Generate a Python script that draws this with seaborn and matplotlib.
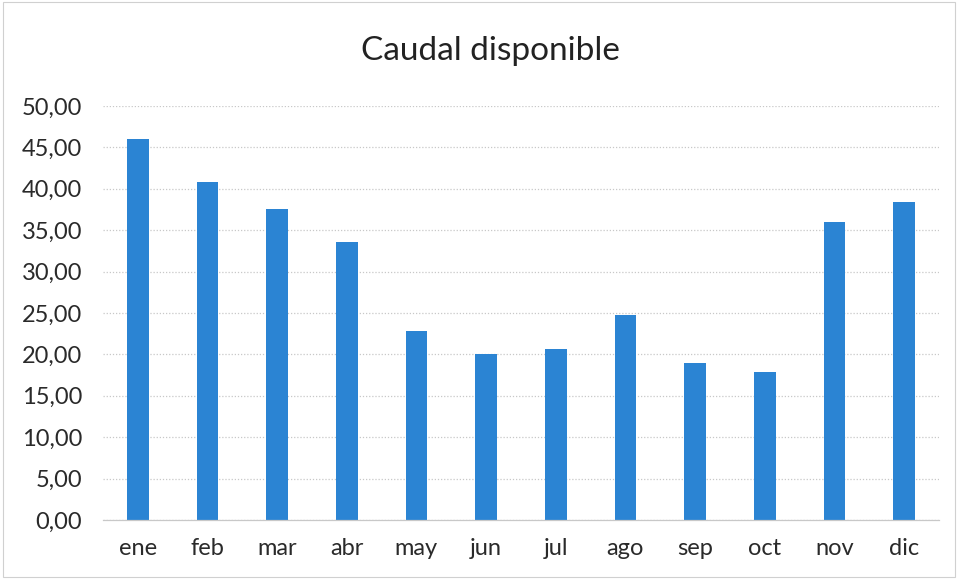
import matplotlib
matplotlib.use("Agg")
import matplotlib.pyplot as plt
import seaborn as sns
import pandas as pd
from matplotlib.ticker import FuncFormatter, MultipleLocator

months = ["ene", "feb", "mar", "abr", "may", "jun", "jul", "ago", "sep", "oct", "nov", "dic"]
caudal = [46.0, 40.8, 37.6, 33.6, 22.8, 20.1, 20.7, 24.8, 18.9, 17.9, 36.0, 38.4]

sns.set_theme(style="white")
plt.rcParams['font.family'] = ['Lato', 'DejaVu Sans']

df = pd.DataFrame({"mes": months, "caudal": caudal})

fig = plt.figure(figsize=(9.58, 5.79), dpi=100)
ax = fig.add_axes([0.1075, 0.102, 0.8725, 0.715])
sns.barplot(data=df, x="mes", y="caudal", color="#2b84d3", width=0.31,
            saturation=1, ax=ax, edgecolor="none")
ax.set_ylim(0, 50)
ax.set_xlim(-0.5, 11.5)
ax.yaxis.set_major_locator(MultipleLocator(5))
ax.yaxis.set_major_formatter(FuncFormatter(lambda v, p: f"{v:.2f}".replace(".", ",")))
ax.grid(axis="y", color="#c8c8c8", linestyle=(0, (1, 1.5)), linewidth=0.9)
ax.set_axisbelow(True)
for s in ["top", "right", "left"]:
    ax.spines[s].set_visible(False)
ax.spines["bottom"].set_color("#c8c8c8")
ax.spines["bottom"].set_linewidth(0.9)
ax.set_xlabel("")
ax.set_ylabel("")
ax.tick_params(axis="y", length=0, pad=15, labelsize=17, labelcolor="#2a2a2a")
ax.tick_params(axis="x", length=0, pad=13, labelsize=17, labelcolor="#2a2a2a")
fig.text(0.512, 0.912, "Caudal disponible", ha="center", va="center", fontsize=24, color="#222222")
border = plt.Rectangle((0.003, 0.003), 0.994, 0.994, transform=fig.transFigure,
                       fill=False, edgecolor="#d0d0d0", linewidth=0.8)
fig.patches.append(border)
fig.savefig("out.png", dpi=100)
